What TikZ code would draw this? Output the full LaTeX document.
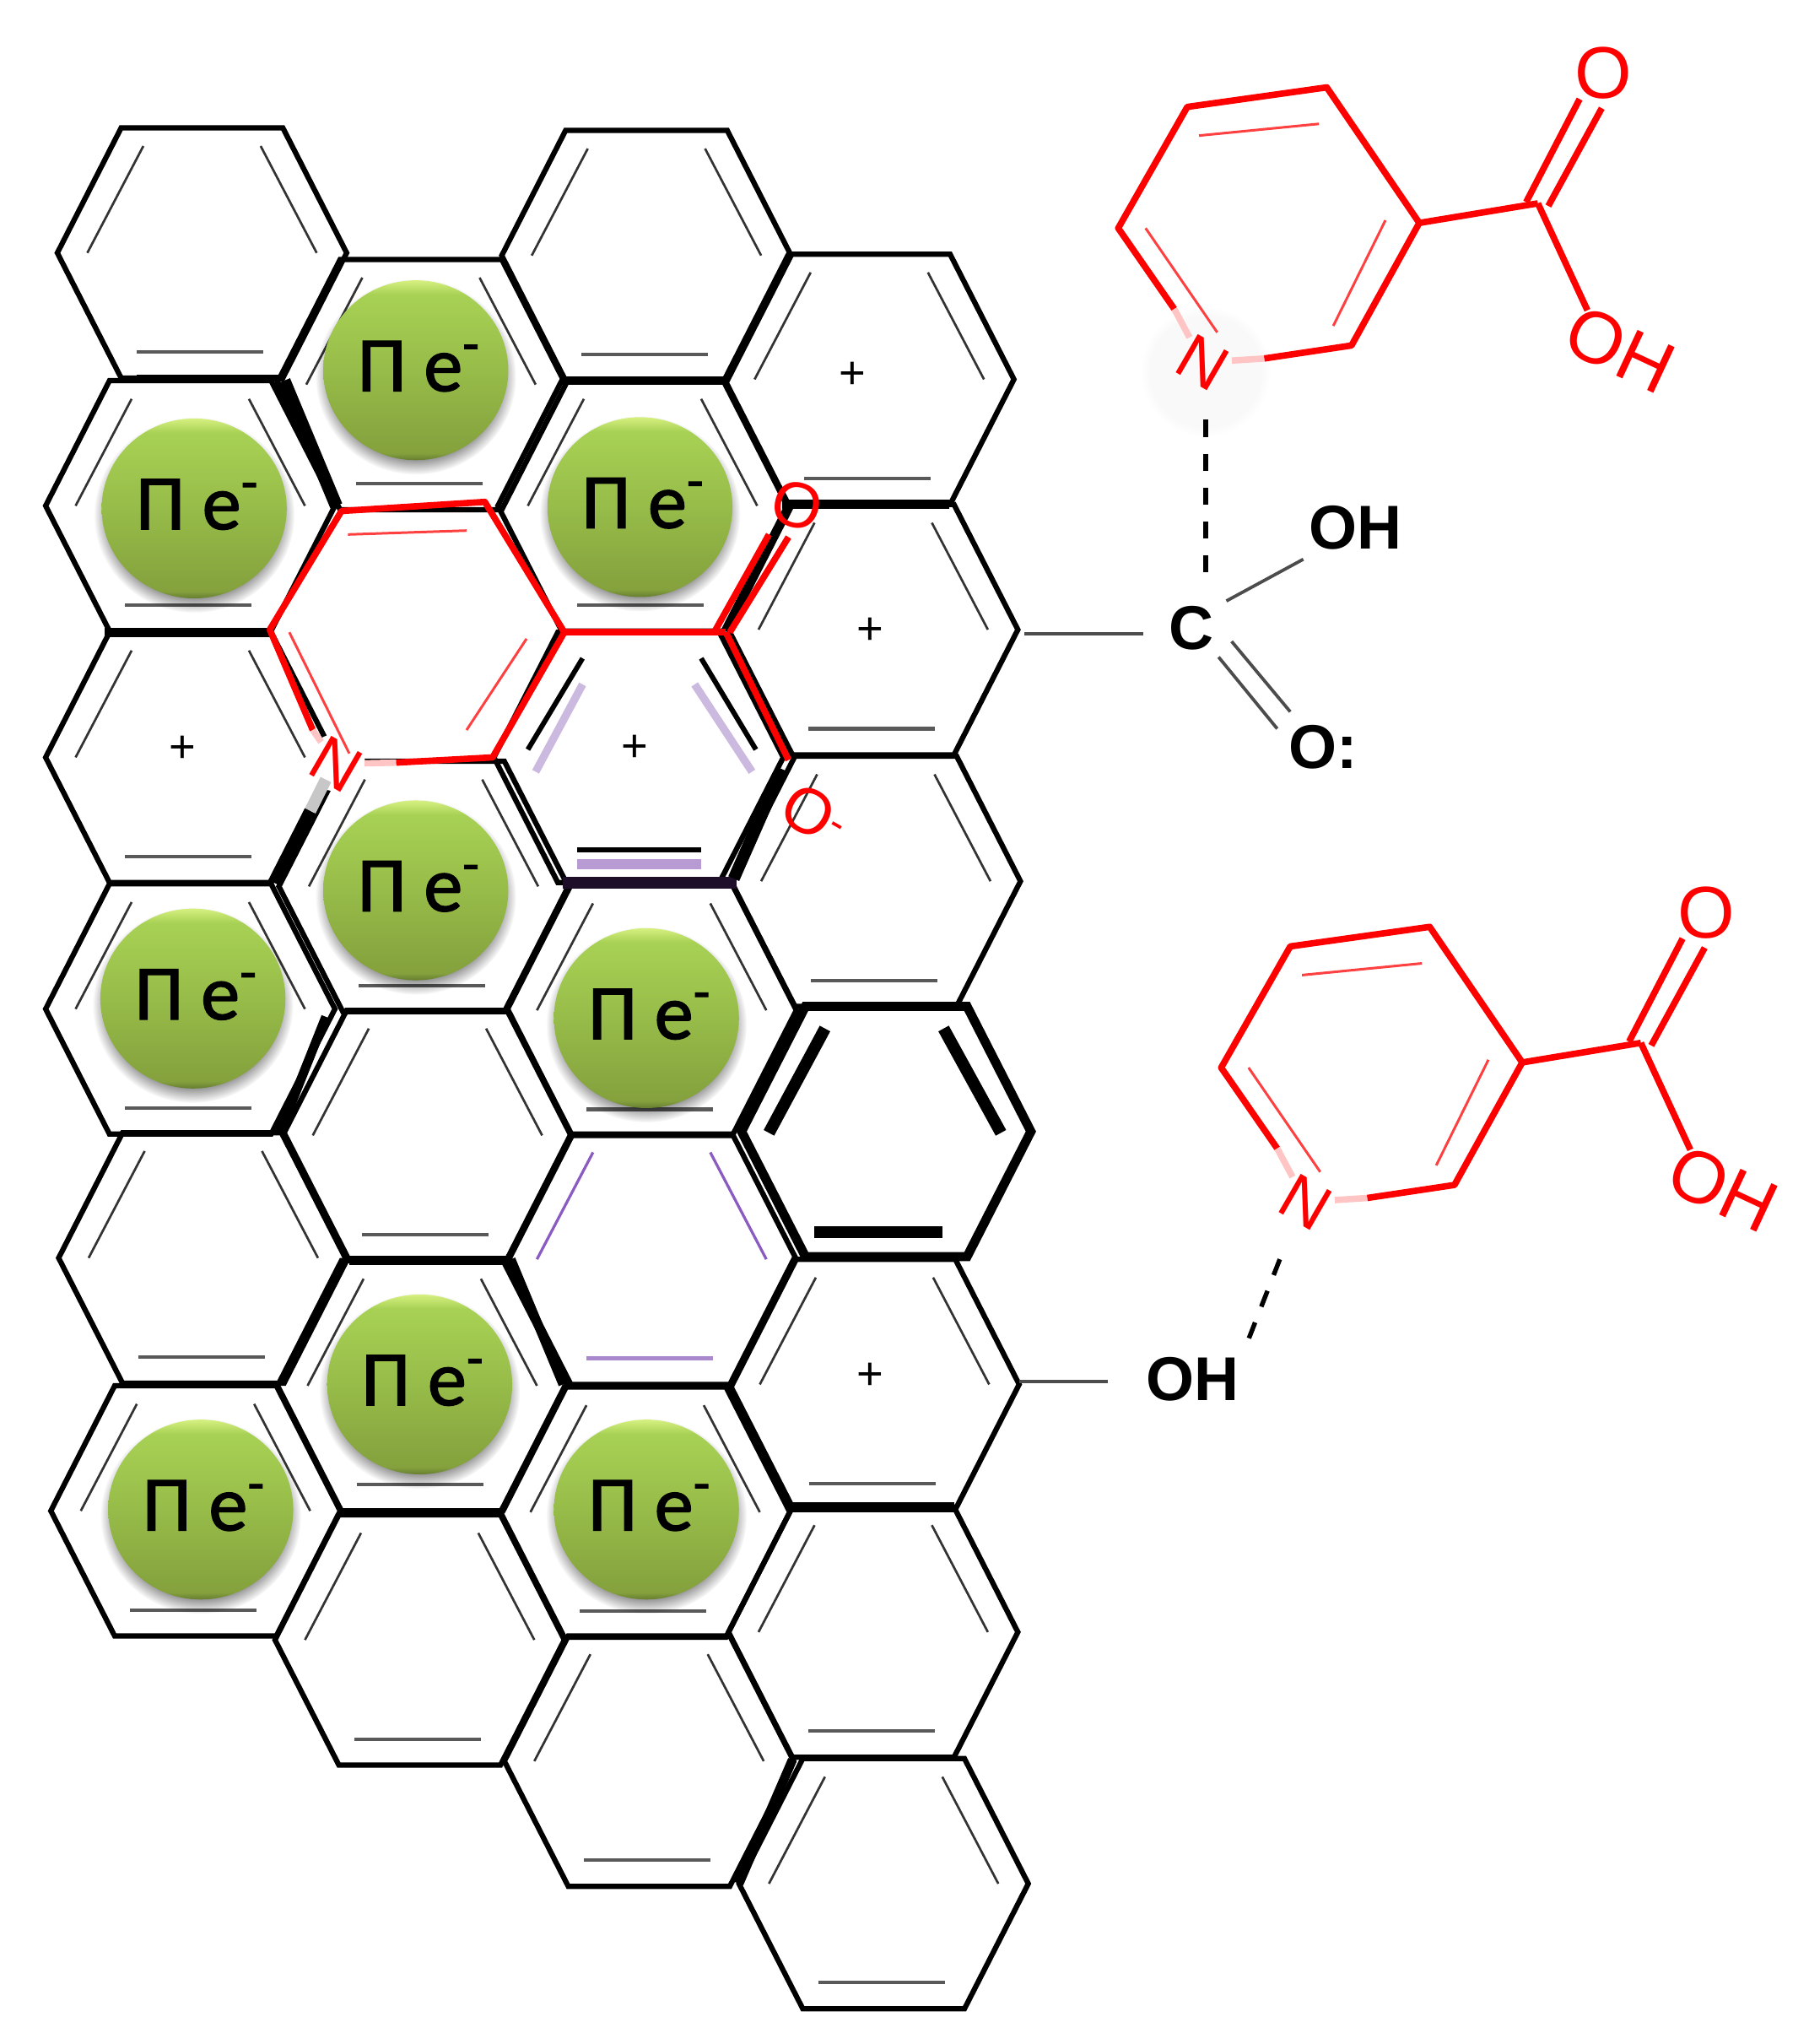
\documentclass[tikz,border=0pt]{standalone}
\usepackage{fontspec}
\setmainfont{Liberation Sans}
\newfontfamily\ballfont[FakeBold=1.5]{Carlito}
\usetikzlibrary{positioning, shapes, fadings}

\definecolor{ringred}{HTML}{FF0000}
\definecolor{softred}{HTML}{FFC4C4}
\definecolor{softpurple}{HTML}{B79BD2}
\definecolor{linepurple}{HTML}{8A5CC2}
\definecolor{darkbond}{HTML}{1E0E2A}
\definecolor{ballrim}{HTML}{D6F080}
\definecolor{balltop}{HTML}{A7D154}
\definecolor{ballmid}{HTML}{97BC49}
\definecolor{ballbot}{HTML}{84A13D}
\definecolor{balledge}{HTML}{667D30}
\pgfdeclareverticalshading{ballshade}{100bp}{
    color(0bp)=(balledge);
    color(25bp)=(balledge);
    color(27bp)=(ballbot);
    color(50bp)=(ballmid);
    color(71bp)=(balltop);
    color(75bp)=(ballrim);
    color(100bp)=(ballrim)}

\tikzset{
    hexline/.style={line width=1.15pt, black, line join=miter},
    innerline/.style={line width=.5pt, black!80},
    flatline/.style={line width=.75pt, black!65},
    heavyedge/.style={line width=2pt, black},
    redbond/.style={line width=1.4pt, ringred, line join=round},
    redthin/.style={line width=.55pt, ringred!75},
    graybond/.style={line width=.7pt, black!70},
    dashbond/.style={line width=1pt, dash pattern=on 3.7pt off 3.7pt},
    ballnode/.style={font=\ballfont\fontsize{17}{17}\selectfont, inner sep=0pt},
    bigtext/.style={font=\bfseries\fontsize{13.5}{14}\selectfont, inner sep=0pt},
    redtext/.style={font=\fontsize{14}{14}\selectfont, text=ringred, inner sep=0pt},
    plustext/.style={font=\fontsize{10}{10}\selectfont, inner sep=0pt}
}

% One honeycomb cell, only its outline
\newcommand{\hexring}[3][hexline]{
    \draw[#1] (#2-111,#3) -- (#2-62,#3-96) -- (#2+62,#3-96) -- (#2+111,#3)
        -- (#2+62,#3+96) -- (#2-62,#3+96) -- cycle;
}
% The three inner double bond lines of one cell
\newcommand{\hexinner}[4]{
    \draw[#3] (#1-45,#2-82) -- (#1-88,#2);
    \draw[#3] (#1+45,#2-82) -- (#1+88,#2);
    \draw[#4] (#1-50,#2+76) -- (#1+47,#2+76);
}

\begin{document}
\begin{tikzpicture}[x=0.01cm, y=-0.01cm]
    \useasboundingbox (0,0) rectangle (1388,1568);

    % Honeycomb cells
    \foreach \cx/\cy in {155/194, 146/388, 146/581, 146/774, 156/965, 150/1159,
                         323/295, 325/680, 328/871, 324/1063, 322/1258,
                         496/196, 493/388, 490/581, 500/775, 500/966, 495/1160, 498/1351,
                         667/291, 670/483, 672/676, 671/1062, 670/1252, 678/1445} {
        \hexring{\cx}{\cy}
    }

    % Double bonds inside the cells
    \foreach \cx/\cy in {155/194, 146/388, 146/581, 146/774, 156/965, 150/1159,
                         323/295, 325/680, 328/871, 324/1063, 322/1258,
                         496/196, 493/388, 500/775, 495/1160, 498/1351,
                         667/291, 670/483, 672/676, 671/1062, 670/1252, 678/1445} {
        \hexinner{\cx}{\cy}{innerline}{flatline}
    }

    % Heavy cell next to the upper right
    \hexring[line width=2pt]{680}{868}
    \draw[line width=2.6pt] (633,789) -- (590,869);
    \draw[line width=2.6pt] (724,789) -- (768,869);
    \draw[line width=2.6pt] (625,945) -- (723,945);

    % Violet cell
    \hexinner{500}{966}{line width=.6pt, linepurple}{line width=1pt, softpurple!70!linepurple}

    % Cell under the red ring, with its violet shadow
    \draw[line width=1.7pt, softpurple, opacity=.7] (447,525) -- (411,592);
    \draw[line width=1.7pt, softpurple, opacity=.7] (533,525) -- (577,592);
    \draw[line width=2.2pt, softpurple] (443,663) -- (538,663);
    \draw[line width=1.1pt] (447,505) -- (405,575);
    \draw[line width=1.1pt] (538,505) -- (580,575);
    \draw[line width=1.1pt] (443,652) -- (538,652);

    % Heavier edges
    \draw[line width=1.6pt] (105,290) -- (218,290);
    \draw[line width=2.8pt] (218,292) -- (258,388);
    \draw[heavyedge] (80,485) -- (207,485);
    \draw[heavyedge] (432,292) -- (555,292);
    \draw[heavyedge] (600,387) -- (728,387);
    \draw[line width=2.6pt] (210,677) -- (238,622);
    \draw[line width=2.6pt, darkbond] (432,677) -- (565,677);
    \draw[line width=2.6pt] (563,674) -- (600,590);
    \draw[heavyedge] (215,868) -- (250,780);
    \draw[heavyedge] (392,966) -- (432,1062);
    \draw[heavyedge] (268,967) -- (392,967);
    \draw[heavyedge] (605,1156) -- (732,1156);
    \draw[heavyedge] (567,1445) -- (608,1350);

    % Green balls
    \foreach \i/\bx/\by in {1/319/284, 2/149/390, 3/491/389, 4/319/683, 5/148/766,
                            6/496/781, 7/322/1062, 8/154/1158, 9/496/1158} {
        \fill[black, opacity=.4, path fading=circle with fuzzy edge 15 percent]
            (\bx,\by+5) ellipse (77 and 75);
        \shade[shading=ballshade] (\bx,\by) ellipse (71 and 69);
        \node[ballnode] (ball\i) at (\bx+3,\by-3) {Π e\textsuperscript{-}};
    }

    % Plus charges
    \foreach \i/\px/\py in {1/654/288, 2/668/484, 3/140/575, 4/487/574, 5/668/1056} {
        \node[plustext] (plus\i) at (\px,\py) {+};
    }

    % Red ring over the honeycomb
    \fill[white] (258,585) circle (22);
    \draw[line width=2.6pt, black!22] (238,622) -- (250,598);
    \coordinate (ra) at (207,483);
    \coordinate (rb) at (262,392);
    \coordinate (rc) at (372,385);
    \coordinate (rd) at (433,485);
    \coordinate (re) at (378,581);
    \coordinate (rf) at (304,585);
    \coordinate (rg) at (240,560);
    \coordinate (cb) at (557,485);
    \node[redtext, rotate=-30] (ringN) at (258,586) {N};
    \node[redtext, rotate=-15] (ringO) at (612,388) {O};
    \node[redtext, rotate=-30] (ringOm) at (625,625) {O\raisebox{.2em}{\fontsize{9}{9}\selectfont -}};
    \draw[redbond] (rg) -- (ra) -- (rb) -- (rc) -- (rd) -- (re) -- (rf);
    \draw[redbond, softred] (rg) -- (ringN);
    \draw[redbond, softred] (rf) -- (ringN);
    \draw[redthin] (267,410) -- (358,407);
    \draw[redthin] (222,485) -- (268,578);
    \draw[redthin] (404,490) -- (358,560);
    \draw[redbond] (rd) -- (cb);
    \draw[redbond] (cb) -- (605,583);
    \draw[redbond] (548,485) -- (590,410);
    \draw[redbond] (560,485) -- (605,412);

    % Carboxyl group on the cell
    \node[bigtext] (cC) at (914,482) {C};
    \node[bigtext] (cO) at (1015,573) {O:};
    \node[bigtext] (cOH) at (1040,405) {OH};
    \coordinate (vc) at (786,486);
    \coordinate (ve) at (877,486);
    \coordinate (oa) at (941,461);
    \coordinate (ob) at (1000,429);
    \draw[graybond] (vc) -- (ve);
    \draw[graybond] (oa) -- (ob);
    \draw[graybond] (945,492) -- (990,546);
    \draw[graybond] (935,504) -- (980,559);

    % Hydroxyl group on the cell
    \node[bigtext] (hOH) at (915,1058) {OH};
    \coordinate (vh) at (782,1060);
    \coordinate (vk) at (850,1060);
    \draw[graybond] (vh) -- (vk);

    % Halo around the upper nitrogen
    \fill[black, opacity=.025, path fading=circle with fuzzy edge 15 percent] (925,285) circle (50);

    % The two free molecules
    \foreach \nm/\sx/\sy in {a/0/0, b/79/644} {
        \begin{scope}[shift={(\sx,\sy)}]
            \coordinate (m1\nm) at (858,175);
            \coordinate (m2\nm) at (911,82);
            \coordinate (m3\nm) at (1018,67);
            \coordinate (m4\nm) at (1089,171);
            \coordinate (m5\nm) at (1037,265);
            \coordinate (m6\nm) at (970,275);
            \coordinate (m7\nm) at (901,237);
            \coordinate (m8\nm) at (1180,156);
            \node[redtext, rotate=-30] (N\nm) at (923,278) {N};
            \node[redtext, font=\fontsize{16}{16}\selectfont] (O\nm) at (1230,56) {O};
            \node[redtext, rotate=-25, font=\fontsize{16}{16}\selectfont] (OH\nm) at (1243,268) {OH};
            \draw[redbond] (m7\nm) -- (m1\nm) -- (m2\nm) -- (m3\nm) -- (m4\nm) -- (m5\nm) -- (m6\nm);
            \draw[redbond, softred] (m7\nm) -- (N\nm);
            \draw[redbond, softred] (m6\nm) -- (N\nm);
            \draw[redthin] (920,104) -- (1012,95);
            \draw[redthin] (1063,169) -- (1023,250);
            \draw[redthin] (879,175) -- (934,255);
            \draw[redbond] (m4\nm) -- (m8\nm);
            \draw[redbond] (1171,155) -- (1212,76);
            \draw[redbond] (1188,158) -- (1229,83);
            \draw[redbond] (m8\nm) -- (1218,238);
        \end{scope}
    }

    % Dashed bonds to the molecules
    \coordinate (na) at (925,322);
    \coordinate (nc) at (925,441);
    \coordinate (nb) at (982,966);
    \coordinate (nd) at (955,1035);
    \draw[dashbond] (na) -- (nc);
    \draw[dashbond] (nb) -- (nd);
\end{tikzpicture}
\end{document}
